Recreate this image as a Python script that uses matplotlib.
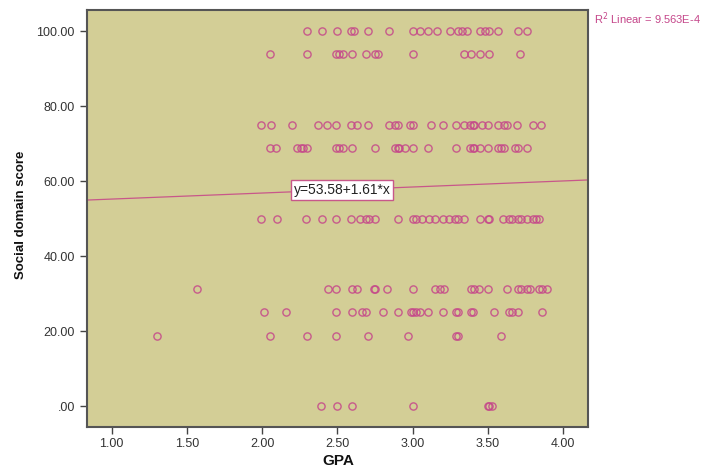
import matplotlib
matplotlib.use("Agg")
import matplotlib.pyplot as plt
import numpy as np

plt.rcParams['font.family'] = ['Liberation Sans', 'DejaVu Sans']

# Score levels and GPA values at each level
score_levels = [100.0, 93.75, 75.0, 68.75, 50.0, 31.25, 25.0, 18.75, 0.0]
gpa_100 = [2.30, 2.40, 2.50, 2.59, 2.61, 2.70, 2.84, 3.00, 3.05, 3.10, 3.16, 3.25,
           3.30, 3.33, 3.36, 3.45, 3.48, 3.51, 3.57, 3.70, 3.76]
gpa_94 = [2.05, 2.30, 2.49, 2.51, 2.54, 2.60, 2.69, 2.75, 2.77, 3.00, 3.34, 3.39,
          3.45, 3.51, 3.71]
gpa_75 = [1.99, 2.06, 2.20, 2.37, 2.43, 2.49, 2.59, 2.63, 2.70, 2.84, 2.88, 2.90,
          2.98, 3.00, 3.12, 3.20, 3.29, 3.34, 3.38, 3.40, 3.41, 3.46, 3.50, 3.57,
          3.61, 3.63, 3.69, 3.80, 3.85]
gpa_69 = [2.05, 2.09, 2.23, 2.26, 2.27, 2.30, 2.49, 2.51, 2.54, 2.60, 2.75, 2.88,
          2.90, 2.91, 2.95, 3.00, 3.10, 3.29, 3.38, 3.40, 3.41, 3.45, 3.50, 3.57,
          3.59, 3.61, 3.68, 3.70, 3.76]
gpa_50 = [1.99, 2.10, 2.29, 2.40, 2.49, 2.59, 2.65, 2.69, 2.71, 2.75, 2.90, 3.00,
          3.02, 3.06, 3.11, 3.15, 3.20, 3.24, 3.28, 3.30, 3.34, 3.45, 3.50, 3.51,
          3.60, 3.64, 3.66, 3.70, 3.72, 3.76, 3.80, 3.82, 3.84]
gpa_31 = [1.57, 2.44, 2.49, 2.60, 2.63, 2.74, 2.75, 2.83, 3.00, 3.15, 3.18, 3.21,
          3.39, 3.41, 3.44, 3.50, 3.63, 3.70, 3.72, 3.76, 3.78, 3.84, 3.86, 3.89]
gpa_25 = [2.01, 2.16, 2.49, 2.60, 2.66, 2.69, 2.80, 2.90, 2.99, 3.00, 3.02, 3.05,
          3.10, 3.20, 3.29, 3.30, 3.39, 3.40, 3.54, 3.64, 3.66, 3.70, 3.86]
gpa_19 = [1.30, 2.05, 2.30, 2.49, 2.70, 2.97, 3.29, 3.30, 3.59]
gpa_0 = [2.39, 2.50, 2.60, 3.00, 3.50, 3.51, 3.53]
gpa_rows = [gpa_100, gpa_94, gpa_75, gpa_69, gpa_50, gpa_31, gpa_25, gpa_19, gpa_0]

intercept = 53.58
slope = 1.61
r2_text = "R$^2$ Linear = 9.563E-4"
eq_text = "y=53.58+1.61*x"

x_ticks = [1.0, 1.5, 2.0, 2.5, 3.0, 3.5, 4.0]
y_ticks = [0, 20, 40, 60, 80, 100]
y_ticklabels = [".00", "20.00", "40.00", "60.00", "80.00", "100.00"]

pink = '#C5468A'
fig = plt.figure(figsize=(7.08, 4.70), dpi=100)
ax = fig.add_axes([86.7/708, 1-426.7/470, (588.3-86.7)/708, (426.7-10)/470])
ax.set_facecolor('#D3CE96')

for lvl, xs in zip(score_levels, gpa_rows):
    ax.plot(xs, [lvl]*len(xs), linestyle='none', marker='o', markersize=5.2,
            markerfacecolor='none', markeredgecolor=pink, markeredgewidth=1.0,
            alpha=0.85)

xlim = (0.834, 4.167)
ax.set_xlim(*xlim)
ax.set_ylim(-5.5, 105.6)
xl = np.array(xlim)
ax.plot(xl, intercept + slope*xl, color='#C8578A', linewidth=0.9)

ax.text(2.53, 57.6, eq_text, fontsize=10, ha='center', va='center', color='#222222',
        bbox=dict(boxstyle='square,pad=0.2', facecolor='white', edgecolor='#C8578A',
                  linewidth=1.0))

ax.set_xticks(x_ticks)
ax.set_xticklabels(["%.2f" % v for v in x_ticks])
ax.set_yticks(y_ticks)
ax.set_yticklabels(y_ticklabels)
ax.tick_params(direction='out', length=5, width=1, colors='#444444',
               labelcolor='#333333', labelsize=9)
ax.tick_params(axis='x', pad=3)
for s in ax.spines.values():
    s.set_color('#555555')
    s.set_linewidth(1.5)

fig.text(338/708, 1-461/470, "GPA", fontsize=11, fontweight='bold', ha='center',
         va='center', color='#111111')
fig.text(21/708, 1-215/470, "Social domain score", fontsize=9.5, fontweight='bold',
         rotation=90, ha='center', va='center', color='#111111')
fig.text(594/708, 1-19/470, r2_text, fontsize=8, color=pink, ha='left', va='center')

fig.savefig('out.png', dpi=100)
